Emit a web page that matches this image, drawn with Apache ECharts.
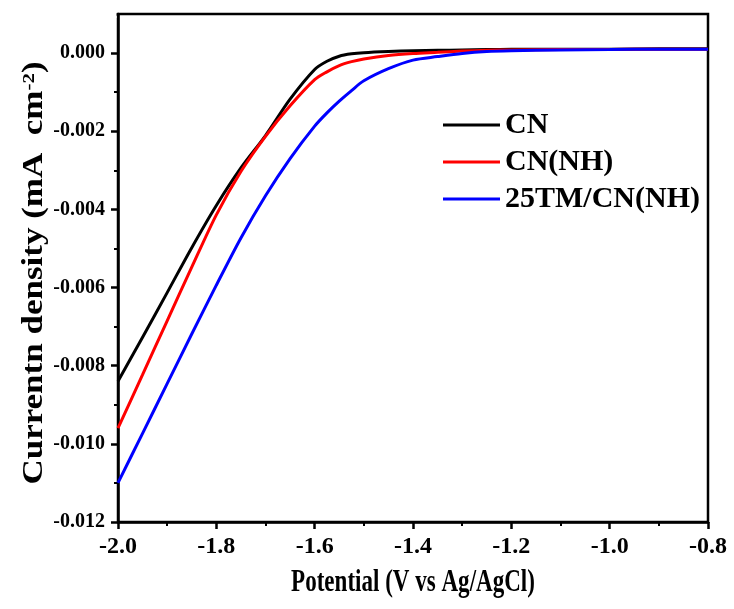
<!DOCTYPE html>
<html>
<head>
<meta charset="utf-8">
<script src="https://cdn.jsdelivr.net/npm/echarts@6/dist/echarts.min.js"></script>
<style>html,body{margin:0;padding:0;background:#fff;}#c{width:734px;height:609px;}</style>
</head>
<body>
<div id="c"></div>
<script>
const potential = [-2.0, -1.95, -1.9, -1.85, -1.8, -1.75, -1.7, -1.65, -1.6, -1.575, -1.55, -1.525, -1.5, -1.45, -1.4, -1.35, -1.3, -1.25, -1.2, -1.1, -1.0, -0.9, -0.8];
const cn = [-0.0084, -0.00727, -0.00613, -0.00498, -0.0039, -0.00294, -0.00211, -0.00118, -0.00042, -0.00021, -0.00008, -0.00002, 0.00001, 0.00004, 0.00006, 0.00007, 0.00008, 0.00009, 0.0001, 0.0001, 0.0001, 0.00011, 0.00011];
const cnNH = [-0.0096, -0.00823, -0.00685, -0.00548, -0.00414, -0.00303, -0.00213, -0.00135, -0.00068, -0.00048, -0.00032, -0.00022, -0.00015, -0.00006, -0.00001, 0.00002, 0.00005, 0.00007, 0.00008, 0.00009, 0.00009, 0.0001, 0.0001];
const tmCN = [-0.011, -0.00973, -0.00846, -0.00719, -0.00594, -0.00473, -0.00365, -0.0027, -0.00187, -0.00153, -0.00123, -0.00096, -0.00071, -0.0004, -0.00018, -0.00009, -0.00001, 0.00004, 0.00006, 0.00008, 0.00009, 0.0001, 0.0001];
const seriesNames = ['CN', 'CN(NH)', '25TM/CN(NH)'];
const seriesColors = ['#000000', '#ff0000', '#0000ff'];
const xTitle = 'Potential (V vs Ag/AgCl)';
const yTitleMain = 'Currentn density (mA  cm';
const yTitleSup = '-2';

const font = '"Liberation Serif", "Times New Roman", serif';
const chart = echarts.init(document.getElementById('c'));
const allData = [cn, cnNH, tmCN];
chart.setOption({
  animation: false,
  grid: { left: 118, right: 26, top: 14, bottom: 87, show: true, borderColor: '#000', borderWidth: 2.5 },
  legend: {
    orient: 'vertical', left: 438, top: 105, itemWidth: 57, itemHeight: 3, itemGap: 7, icon: 'rect',
    textStyle: { fontFamily: font, fontWeight: 'bold', fontSize: 30, color: '#000' },
    data: seriesNames
  },
  graphic: [
    { type: 'rect', z: 100, shape: { x: 104, y: 9, width: 12.5, height: 9 }, style: { fill: '#fff' } },
    { type: 'text', z: 100, x: 413, y: 583, scaleX: 0.72,
      style: { text: xTitle, fontFamily: font, fontWeight: 'bold', fontSize: 32, fill: '#000', align: 'center', verticalAlign: 'middle' } },
    { type: 'text', z: 100, x: 35, y: 273, rotation: Math.PI / 2, scaleY: 0.82,
      style: { text: '{a|' + yTitleMain + '}{s|' + yTitleSup + '}{a|)}', align: 'center', verticalAlign: 'middle',
        rich: {
          a: { fontFamily: font, fontWeight: 'bold', fontSize: 35, fill: '#000', color: '#000' },
          s: { fontFamily: font, fontWeight: 'bold', fontSize: 21, fill: '#000', color: '#000', verticalAlign: 'top' }
        } } }
  ],
  xAxis: {
    type: 'value', min: -2.0, max: -0.8, interval: 0.2,
    axisLine: { onZero: false, lineStyle: { color: '#000', width: 2.5 } },
    axisTick: { show: true, inside: false, length: 7, lineStyle: { width: 2.5, color: '#000' } },
    minorTick: { show: true, splitNumber: 2, length: 4, lineStyle: { width: 2, color: '#000' } },
    splitLine: { show: false },
    axisLabel: { fontFamily: font, fontWeight: 'bold', fontSize: 24, color: '#000', margin: 13,
      formatter: v => v.toFixed(1) }
  },
  yAxis: {
    type: 'value', min: -0.012, max: 0.001, interval: 0.002,
    axisLine: { onZero: false, lineStyle: { color: '#000', width: 2.5 } },
    axisTick: { show: true, inside: false, length: 7, lineStyle: { width: 2.5, color: '#000' } },
    minorTick: { show: true, splitNumber: 2, length: 4, lineStyle: { width: 2, color: '#000' } },
    splitLine: { show: false },
    axisLabel: { fontFamily: font, fontWeight: 'bold', fontSize: 20, color: '#000', margin: 13,
      formatter: v => (v > 0.0005 ? '' : v.toFixed(3)) }
  },
  series: seriesNames.map((n, i) => ({
    name: n, type: 'line', symbol: 'none', smooth: 0.3,
    lineStyle: { color: seriesColors[i], width: 3 }, itemStyle: { color: seriesColors[i] },
    data: potential.map((x, j) => [x, allData[i][j]])
  }))
});
</script>
</body>
</html>
